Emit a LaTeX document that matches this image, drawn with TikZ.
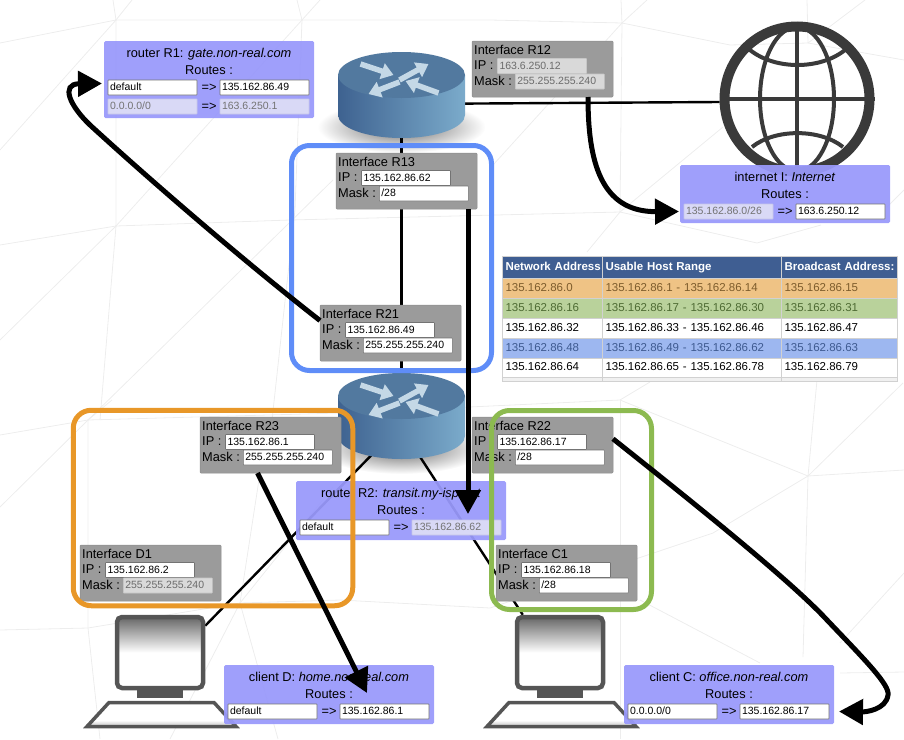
\documentclass[tikz,border=0pt]{standalone}
\usepackage{fontspec}
\setmainfont{Liberation Sans}
\usetikzlibrary{arrows.meta,shapes,calc,shadings}
\pgfdeclarelayer{mesh}
\pgfdeclarelayer{bg}
\pgfsetlayers{mesh,bg,main}
\definecolor{routefill}{HTML}{9999FB}
\definecolor{ifacefill}{HTML}{9B9B9B}
\definecolor{monitorgrey}{HTML}{666666}
\definecolor{pcgrey}{HTML}{555555}
\definecolor{globegrey}{HTML}{3A3A3A}
\definecolor{hlblue}{HTML}{5F8DF8}
\definecolor{hlorange}{HTML}{E89728}
\definecolor{hlgreen}{HTML}{8CBA50}
\definecolor{thead}{HTML}{3F5E92}
\definecolor{torange}{HTML}{EFC385}
\definecolor{tgreen}{HTML}{B9D29B}
\definecolor{tblue}{HTML}{9DB7F0}
\definecolor{torangetxt}{HTML}{7D5C2C}
\definecolor{tgreentxt}{HTML}{4E6B33}
\definecolor{tbluetxt}{HTML}{3E5A90}
\definecolor{routertop}{HTML}{52799F}
\definecolor{routerleft}{HTML}{3E6290}
\definecolor{routerright}{HTML}{7BABCB}
\definecolor{routerarrow}{HTML}{C4D8E6}
\definecolor{dimfill}{HTML}{D9D9F6}
\definecolor{dimdraw}{HTML}{C6C6E8}
\pgfdeclareverticalshading{monitorfade}{100bp}{color(0bp)=(white);color(25bp)=(white);color(50bp)=(white);color(75bp)=(monitorgrey);color(100bp)=(monitorgrey)}
\pgfdeclareverticalshading{keyboardfade}{100bp}{color(0bp)=(black!25);color(25bp)=(black!25);color(38bp)=(white);color(100bp)=(white)}
\tikzstyle{meshline}=[draw=black!7,line width=0.8pt]
\tikzstyle{link}=[draw=black,line width=2.4pt]
\tikzstyle{route}=[draw=black,line width=5pt,-{Triangle[length=24pt,width=25pt]}]
\tikzstyle{ifacebox}=[rectangle,anchor=north west,fill=ifacefill,draw=black!45,line width=0.5pt,rounded corners=1pt,minimum width=141pt,minimum height=56pt,outer sep=0pt]
\tikzstyle{routebox}=[rectangle,anchor=north west,fill=routefill,fill opacity=0.94,rounded corners=1.5pt,minimum width=210pt,outer sep=0pt]
\tikzstyle{txt}=[font=\fontsize{12.8}{15}\selectfont,inner sep=0pt,text height=9.5pt,text depth=2.5pt]
\tikzstyle{inputbase}=[rectangle,anchor=north west,minimum height=15pt,text width=85pt,inner xsep=2pt,inner ysep=0pt,align=left,outer sep=0pt,rounded corners=0.5pt,line width=0.6pt,text height=8pt,text depth=2pt,font=\fontsize{10.5}{12}\selectfont]
\tikzstyle{inputon}=[inputbase,fill=white,draw=black!55]
\tikzstyle{inputoff}=[inputbase,fill=black!15,draw=black!22,text=black!58]
\tikzstyle{inputdim}=[inputbase,fill=dimfill,draw=dimdraw,text=black!55]
\tikzstyle{hlbox}=[rectangle,line width=5pt,rounded corners=18pt]
\tikzstyle{routermark}=[draw=routerarrow,line width=5.5pt,-{Triangle[length=12pt,width=16pt]}]
\tikzstyle{globeline}=[draw=globegrey,line width=4.5pt]
\tikzstyle{cell}=[rectangle,anchor=north west,draw=black!18,line width=0.6pt,inner xsep=3.5pt,inner ysep=0pt,align=left,outer sep=0pt,text height=8.5pt,text depth=2pt,font=\fontsize{11.5}{13}\selectfont]
\tikzstyle{cellend}=[rectangle,anchor=north west,draw=black!18,fill=black!6,line width=0.6pt,inner sep=0pt,outer sep=0pt,minimum height=4pt]
% one interface card
\newcommand{\ifacecard}[8]{
  \node[ifacebox] (#1) at (#2,#3) {};
  \begin{scope}[shift={(#2,#3)}]
    \node[txt,anchor=west] (#1t) at (2,10) {#4};
    \node[txt,anchor=west] (#1a) at (2,24.5) {IP :};
    \node[#5] (#1ip) at (25.5,17.5) {#6};
    \node[txt,anchor=west] (#1b) at (2,40.5) {Mask :};
    \node[#7] (#1mask) at (43.3,33) {#8};
  \end{scope}}
% blue route card, head only
\newcommand{\routecard}[5]{
  \node[routebox,minimum height=#4] (#1) at (#2,#3) {};
  \begin{scope}[shift={(#2,#3)}]
    \node[txt] (#1t) at (105,12.5) {#5};
    \node[txt] (#1r) at (105,29.5) {Routes :};
  \end{scope}}
\newcommand{\routerow}[7]{
  \begin{scope}[shift={(#2,#3)}]
    \node[#4] (#1a) at (0,0) {#5};
    \node[txt] (#1m) at (101,8) {=>};
    \node[#6] (#1b) at (112,0) {#7};
  \end{scope}}
\newcommand{\routericon}[3]{
  \node[minimum width=127pt,minimum height=86pt,inner sep=0pt,outer sep=0pt] (#1) at (#2,#3) {};
  \begin{pgfonlayer}{mesh}
    \shade[inner color=black!60,outer color=white] (#2,#3+32) ellipse (84 and 26);
  \end{pgfonlayer}
  \begin{scope}[shift={(#2,#3)}]
    \shade[left color=routerleft,right color=routerright]
      (-63.5,-20) -- (-63.5,20) arc[start angle=180,end angle=0,x radius=63.5,y radius=23] -- (63.5,-20) -- cycle;
    \fill[routertop] (0,-20) ellipse (63.5 and 23);
    \draw[routermark] (-41,-31) -- (-8,-20);
    \draw[routermark] (-2,-15) -- (27,-31);
    \draw[routermark] (-2,-13) -- (-33,-1);
    \draw[routermark] (37,-2) -- (4,-14);
  \end{scope}}
\newcommand{\pcicon}[3]{
  \node[rectangle,draw=pcgrey,line width=4.5pt,rounded corners=5pt,shade,shading=monitorfade,minimum width=86pt,minimum height=71pt,outer sep=2.25pt] (#1) at (#2,#3) {};
  \begin{scope}[shift={(#2,#3)}]
    \fill[pcgrey] (-23,37) rectangle (23,45);
    \shadedraw[draw=pcgrey,line width=3.5pt,shading=keyboardfade] (-51,50) -- (54,50) -- (76,74) -- (-73,74) -- cycle;
  \end{scope}}
\newcommand{\tablerow}[8]{
  \node[cell,minimum width=100pt,minimum height=#3,text width=93pt,fill=#4,text=#5] (#1a) at (502,#2) {#6};
  \node[cell,minimum width=179pt,minimum height=#3,text width=172pt,fill=#4,text=#5] (#1b) at (602,#2) {#7};
  \node[cell,minimum width=116pt,minimum height=#3,text width=109pt,fill=#4,text=#5] (#1c) at (781,#2) {#8};}
\begin{document}
\begin{tikzpicture}[x=1pt,y=-1pt]
\useasboundingbox (0,0) rectangle (904,739);
% faint mesh behind everything
\begin{pgfonlayer}{mesh}
  \draw[meshline] (0,43) -- (116,20) -- (113,0);
  \draw[meshline] (116,20) -- (132,0);
  \draw[meshline] (116,20) -- (0,150);
  \draw[meshline] (116,20) -- (116,226) -- (0,245);
  \draw[meshline] (116,20) -- (302,20) -- (297,0);
  \draw[meshline] (302,20) -- (320,0);
  \draw[meshline] (302,20) -- (116,226) -- (0,340);
  \draw[meshline] (302,20) -- (295,210) -- (272,420);
  \draw[meshline] (116,226) -- (290,220) -- (620,212);
  \draw[meshline] (116,226) -- (100,420);
  \draw[meshline] (333,180) -- (88,420);
  \draw[meshline] (302,20) -- (490,20) -- (622,23) -- (621,0);
  \draw[meshline] (622,23) -- (647,0);
  \draw[meshline] (622,23) -- (730,45) -- (808,43) -- (807,0);
  \draw[meshline] (808,43) -- (865,0);
  \draw[meshline] (808,43) -- (904,60);
  \draw[meshline] (622,23) -- (620,212);
  \draw[meshline] (622,23) -- (493,165);
  \draw[meshline] (620,212) -- (757,243) -- (821,225);
  \draw[meshline] (620,212) -- (723,127);
  \draw[meshline] (620,212) -- (587,252);
  \draw[meshline] (887,207) -- (904,190);
  \draw[meshline] (88,420) -- (0,435);
  \draw[meshline] (88,420) -- (340,413) -- (620,400);
  \draw[meshline] (88,420) -- (112,400);
  \draw[meshline] (88,420) -- (0,507);
  \draw[meshline] (88,420) -- (88,628) -- (100,739);
  \draw[meshline] (0,630) -- (88,628) -- (240,603);
  \draw[meshline] (240,603) -- (260,473);
  \draw[meshline] (240,603) -- (340,600) -- (490,608);
  \draw[meshline] (240,603) -- (278,739);
  \draw[meshline] (240,603) -- (170,739);
  \draw[meshline] (240,603) -- (333,487);
  \draw[meshline] (620,400) -- (650,382);
  \draw[meshline] (620,400) -- (620,739);
  \draw[meshline] (620,400) -- (808,476) -- (904,470);
  \draw[meshline] (808,476) -- (817,380);
  \draw[meshline] (808,476) -- (903,383);
  \draw[meshline] (808,476) -- (713,533) -- (490,608);
  \draw[meshline] (808,476) -- (803,657);
  \draw[meshline] (640,600) -- (760,663);
  \draw[meshline] (840,643) -- (904,573);
  \draw[meshline] (840,673) -- (904,672);
\end{pgfonlayer}
% globe
\node[circle,draw=globegrey,line width=10pt,minimum size=145pt,inner sep=0pt,outer sep=5pt] (globe) at (797,99) {};
\draw[globeline] (globe.north) -- (globe.south);
\draw[globeline] (globe.west) -- (globe.east);
\draw[globeline,line width=4pt] (797,99) ellipse (37 and 72);
\draw[globeline,line width=4pt] (750,50) .. controls (775,70) and (820,70) .. (845,50);
\draw[globeline,line width=4pt] (752,147) .. controls (775,128.5) and (820,128.5) .. (843,147);
% routers and clients
\routericon{router1}{401.5}{95}
\routericon{router2}{401.5}{416}
\pcicon{pcD}{160}{652.5}
\pcicon{pcC}{560}{652.5}
% wires
\begin{pgfonlayer}{bg}
  \draw[link] (router1) -- (router2);
  \draw[link] ([yshift=-9pt]router1.center) -- ([yshift=-3pt]globe.west);
  \draw[link] ([xshift=8pt]router2.center) -- ([yshift=-11pt]pcD.north east);
  \draw[link] ([xshift=-8pt]router2.center) -- ([xshift=8pt]pcC.north west);
\end{pgfonlayer}
% address table
\tablerow{thA}{256}{22pt}{thead}{white}{\mbox{\textbf{Network Address}}}{\textbf{Usable Host Range}}{\mbox{\textbf{Broadcast Address:}}}
\tablerow{tr0}{278}{20pt}{torange}{torangetxt}{135.162.86.0}{135.162.86.1 - 135.162.86.14}{135.162.86.15}
\tablerow{tr16}{298}{20pt}{tgreen}{tgreentxt}{135.162.86.16}{135.162.86.17 - 135.162.86.30}{135.162.86.31}
\tablerow{tr32}{318}{20pt}{white}{black}{135.162.86.32}{135.162.86.33 - 135.162.86.46}{135.162.86.47}
\tablerow{tr48}{338}{20pt}{tblue}{tbluetxt}{135.162.86.48}{135.162.86.49 - 135.162.86.62}{135.162.86.63}
\tablerow{tr64}{358}{19pt}{white}{black}{135.162.86.64}{135.162.86.65 - 135.162.86.78}{135.162.86.79}
\node[cellend,minimum width=100pt] (trEnda) at (502,377) {};
\node[cellend,minimum width=179pt] (trEndb) at (602,377) {};
\node[cellend,minimum width=116pt] (trEndc) at (781,377) {};
% interfaces
\ifacecard{iR12}{472}{41}{Interface R12}{inputoff}{163.6.250.12}{inputoff}{255.255.255.240}
\ifacecard{iR13}{336}{153}{Interface R13}{inputon}{135.162.86.62}{inputon}{/28}
\ifacecard{iR21}{320}{305}{Interface R21}{inputon}{135.162.86.49}{inputon}{255.255.255.240}
\ifacecard{iR23}{200}{417}{Interface R23}{inputon}{135.162.86.1}{inputon}{255.255.255.240}
\ifacecard{iR22}{472}{417}{Interface R22}{inputon}{135.162.86.17}{inputon}{/28}
\ifacecard{iD1}{80}{545}{Interface D1}{inputon}{135.162.86.2}{inputoff}{255.255.255.240}
\ifacecard{iC1}{496}{545}{Interface C1}{inputon}{135.162.86.18}{inputon}{/28}
% route cards
\routecard{rR1}{104}{41}{77pt}{router R1: \textit{gate.non-real.com}}
\routerow{rR1x}{108}{80}{inputon}{default}{inputon}{135.162.86.49}
\routerow{rR1y}{108}{99}{inputdim}{0.0.0.0/0}{inputdim}{163.6.250.1}
\routecard{rI}{680}{165}{58pt}{internet I: \textit{Internet}}
\routerow{rIx}{684}{204}{inputdim}{135.162.86.0/26}{inputon}{163.6.250.12}
\routecard{rR2}{296}{481}{59pt}{router R2: \textit{transit.my-isp.net}}
\routerow{rR2x}{300}{520}{inputon}{default}{inputdim}{135.162.86.62}
\routecard{rD}{224}{665}{59pt}{client D: \textit{home.non-real.com}}
\routerow{rDx}{228}{704}{inputon}{default}{inputon}{135.162.86.1}
\routecard{rC}{624}{665}{59pt}{client C: \textit{office.non-real.com}}
\routerow{rCx}{628}{704}{inputon}{0.0.0.0/0}{inputon}{135.162.86.17}
% subnets
\node[hlbox,draw=hlblue,minimum width=200pt,minimum height=225pt] (netB) at (391.5,258) {};
\node[hlbox,draw=hlorange,minimum width=279.5pt,minimum height=195.5pt] (netO) at (213,508) {};
\node[hlbox,draw=hlgreen,minimum width=160pt,minimum height=199pt] (netG) at (571.5,510) {};
% routes
\coordinate (tipR2) at (468,514);
\coordinate (tipD) at (367,693);
\draw[route] (iR21.170) .. controls (245,262) and (150,180) .. (90,125) .. controls (70,106) and (60,84) .. ([xshift=-2pt,yshift=-4pt]rR1.west);
\draw[route] ([xshift=45.5pt]iR12.south) .. controls (588,160) and (600,212) .. ([xshift=-5pt]rIxa.west);
\draw[route] ([xshift=61.5pt]iR13.south) -- (tipR2);
\draw[route] ([xshift=-13pt]iR23.south) -- (tipD);
\draw[route] (iR22.5) .. controls (690,500) and (790,580) .. (827,620) .. controls (865,660) and (890,685) .. (888,695) .. controls (886,710) and (865,712) .. ([xshift=10pt]rCxb.east);
\end{tikzpicture}
\end{document}
